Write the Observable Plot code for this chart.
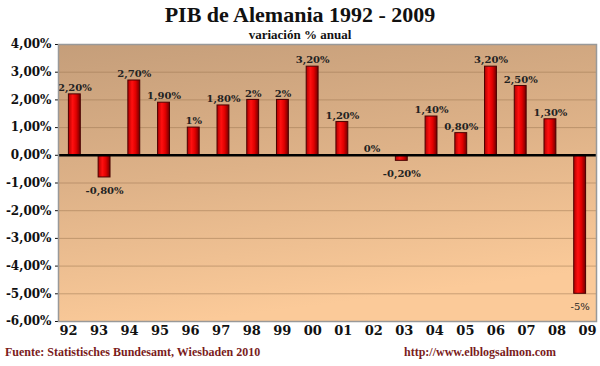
<!DOCTYPE html>
<html><head><meta charset="utf-8">
<script src="https://cdn.jsdelivr.net/npm/d3@7"></script>
<script src="https://cdn.jsdelivr.net/npm/@observablehq/plot@0.6"></script>
<style>
body{margin:0;background:#fff;width:600px;height:366px;position:relative;overflow:hidden;font-family:"Liberation Serif",serif;}
#title{position:absolute;top:4px;left:0;width:600px;text-align:center;font-weight:bold;font-size:22px;color:#111;line-height:1;}
#sub{position:absolute;top:28px;left:0;width:600px;text-align:center;font-weight:bold;font-size:13px;color:#111;line-height:1;}
#chart{position:absolute;top:0;left:0;}
#xaxis{position:absolute;top:323px;left:0;}
.foot{position:absolute;top:346px;font-weight:bold;font-size:12px;color:#7a1c1c;line-height:1;}
</style></head><body>
<div id="chart"></div>
<div id="xaxis"></div>
<div id="title">PIB de Alemania 1992 - 2009</div>
<div id="sub">variación % anual</div>
<div class="foot" style="left:5px">Fuente: Statistisches Bundesamt, Wiesbaden 2010</div>
<div class="foot" style="left:404px">http://www.elblogsalmon.com</div>
<script>
const years = ["92","93","94","95","96","97","98","99","00","01","02","03","04","05","06","07","08","09"];
const values = [2.2,-0.8,2.7,1.9,1,1.8,2,2,3.2,1.2,0,-0.2,1.4,0.8,3.2,2.5,1.3,-5];
const labels = ["2,20%","-0,80%","2,70%","1,90%","1%","1,80%","2%","2%","3,20%","1,20%","0%","-0,20%","1,40%","0,80%","3,20%","2,50%","1,30%","-5%"];
const yTicks = [4,3,2,1,0,-1,-2,-3,-4,-5,-6];
const yTickLabels = ["4,00%","3,00%","2,00%","1,00%","0,00%","-1,00%","-2,00%","-3,00%","-4,00%","-5,00%","-6,00%"];

const data = years.map((y,i)=>({year:y, value:values[i], label:labels[i]}));

const plot = Plot.plot({
  width:600, height:366,
  marginTop:44, marginBottom:45, marginLeft:58, marginRight:4,
  style:{fontFamily:"DejaVu Serif, serif", fontWeight:"bold", fontSize:"12px", color:"#111", background:"transparent"},
  x:{domain:years, paddingInner:0.6, paddingOuter:0.35, round:false, label:null, axis:null},
  y:{domain:[-6,4], ticks:yTicks, tickFormat:(d)=>yTickLabels[yTicks.indexOf(d)], label:null, tickSize:3, tickPadding:4},
  marks:[
    Plot.frame({fill:"url(#bgGrad)", stroke:"none"}),
    Plot.ruleY(yTicks.filter(d=>d!==0 && d!==-6 && d!==4), {stroke:"#9c7550", strokeOpacity:0.5, strokeWidth:1}),
    Plot.barY(data, {x:"year", y:"value", fill:"url(#barGrad)", stroke:"#4a0000", strokeWidth:1}),
    Plot.ruleY([0], {stroke:"#000", strokeWidth:2.5}),
    Plot.text(data, {x:"year", y:"value", text:"label", fontSize:10, fontWeight:"bold", fill:"#222"}),
    Plot.frame({stroke:"#999", strokeWidth:1.5})
  ]
});
document.getElementById("chart").appendChild(plot);

const xAxis = Plot.plot({
  width:600, height:22, marginTop:0, marginBottom:22, marginLeft:0, marginRight:0,
  style:{fontFamily:"DejaVu Serif, serif", fontWeight:"bold", fontSize:"13px", color:"#111", background:"transparent", overflow:"visible"},
  x:{type:"point", domain:years, range:[68,587], padding:0, round:false, label:null},
  marks:[Plot.axisX({anchor:"bottom", tickSize:0, tickPadding:2, label:null})]
});
document.getElementById("xaxis").appendChild(xAxis);

// place value labels above/below bars
const svg = d3.select(plot);
svg.selectAll("g[aria-label='text'] text").each(function(d,i){
  const v = values[i];
  const t = d3.select(this);
  t.attr("dy", v >= 0 ? "-0.65em" : "1.3em");
  if (years[i]==="09") t.style("font-weight","normal");
});
const defs = svg.insert("defs", ":first-child");
const bg = defs.append("linearGradient").attr("id","bgGrad").attr("x1","0").attr("y1","0").attr("x2","0.25").attr("y2","1");
bg.append("stop").attr("offset","0%").attr("stop-color","#c59e7a");
bg.append("stop").attr("offset","50%").attr("stop-color","#deb288");
bg.append("stop").attr("offset","100%").attr("stop-color","#fbca99");
const bar = defs.append("linearGradient").attr("id","barGrad").attr("x1","0").attr("y1","0").attr("x2","1").attr("y2","0");
bar.append("stop").attr("offset","0%").attr("stop-color","#b00000");
bar.append("stop").attr("offset","35%").attr("stop-color","#ff1010");
bar.append("stop").attr("offset","65%").attr("stop-color","#e00000");
bar.append("stop").attr("offset","100%").attr("stop-color","#700000");
</script>
</body></html>
